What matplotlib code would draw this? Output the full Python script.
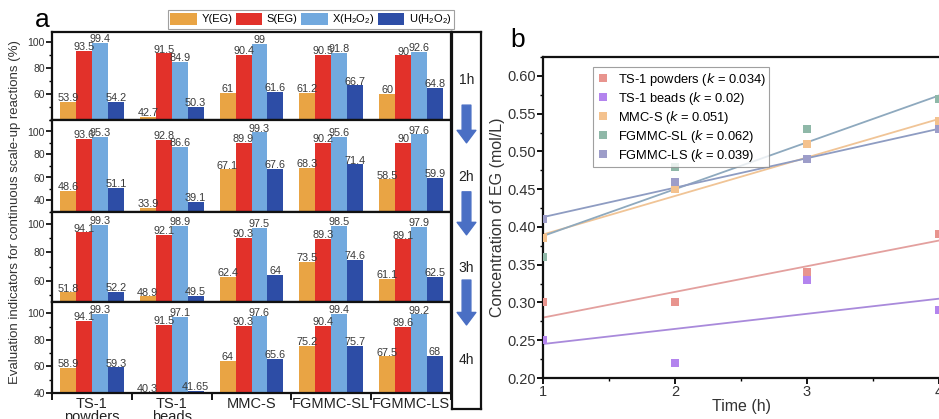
import matplotlib
matplotlib.use("Agg")
import matplotlib.pyplot as plt
import numpy as np
from matplotlib.patches import Patch
from matplotlib.lines import Line2D
from matplotlib.ticker import MultipleLocator, FixedLocator

plt.rcParams['font.family'] = ['Liberation Sans', 'DejaVu Sans']
plt.rcParams['mathtext.default'] = 'regular'

# ---------------- data: panel a ----------------
catalysts = ["TS-1\npowders", "TS-1\nbeads", "MMC-S", "FGMMC-SL", "FGMMC-LS"]
times = ["1h", "2h", "3h", "4h"]
series_names = ["Y(EG)", "S(EG)", "X(H$_2$O$_2$)", "U(H$_2$O$_2$)"]
series_colors = ["#E9A444", "#E2312A", "#72A9DE", "#2D4DA6"]

Y_EG = [[53.9, 42.7, 61, 61.2, 60],
        [48.6, 33.9, 67.1, 68.3, 58.5],
        [51.8, 48.9, 62.4, 73.5, 61.1],
        [58.9, 40.3, 64, 75.2, 67.5]]
S_EG = [[93.5, 91.5, 90.4, 90.5, 90],
        [93.6, 92.8, 89.9, 90.2, 90],
        [94.1, 92.1, 90.3, 89.3, 89.1],
        [94.1, 91.5, 90.3, 90.4, 89.6]]
X_H2O2 = [[99.4, 84.9, 99, 91.8, 92.6],
          [95.3, 86.6, 99.3, 95.6, 97.6],
          [99.3, 98.9, 97.5, 98.5, 97.9],
          [99.3, 97.1, 97.6, 99.4, 99.2]]
U_H2O2 = [[54.2, 50.3, 61.6, 66.7, 64.8],
          [51.1, 39.1, 67.6, 71.4, 59.9],
          [52.2, 49.5, 64, 74.6, 62.5],
          [59.3, 41.65, 65.6, 75.7, 68]]
row_ylims = [(40, 108), (30, 110), (45, 108.5), (40, 108.5)]
row_yticks = [[60, 80, 100], [40, 60, 80, 100], [60, 80, 100], [40, 60, 80, 100]]

# ---------------- data: panel b ----------------
b_names = ["TS-1 powders", "TS-1 beads", "MMC-S", "FGMMC-SL", "FGMMC-LS"]
b_k = [0.034, 0.02, 0.051, 0.062, 0.039]
b_k_text = ["0.034", "0.02", "0.051", "0.062", "0.039"]
b_intercept = [0.28, 0.245, 0.39, 0.388, 0.413]   # fitted value at t = 1 h
b_time = [1, 2, 3, 4]
b_conc = [[0.30, 0.30, 0.34, 0.39],
          [0.25, 0.22, 0.33, 0.29],
          [0.385, 0.45, 0.51, 0.54],
          [0.36, 0.48, 0.53, 0.57],
          [0.41, 0.46, 0.49, 0.53]]
b_marker_colors = ["#E8948E", "#B384EE", "#F4C28E", "#8FB8A8", "#9D9DC9"]
b_line_colors = ["#E3A09E", "#A98ADB", "#F0C496", "#8EA9BE", "#8E9CC2"]

W, H = 939, 419
fig = plt.figure(figsize=(W / 100, H / 100), dpi=100)

def fx(px):
    return px / W

def fy(py):
    return 1 - py / H

# ---------------- panel a ----------------
row_tops = [32, 120, 212, 302]
row_bots = [120, 212, 302, 393]
left_px, right_px = 52, 451
all_series = [Y_EG, S_EG, X_H2O2, U_H2O2]
x = np.arange(len(catalysts))
bw = 0.2
for r in range(4):
    ax = fig.add_axes([fx(left_px), fy(row_bots[r]), fx(right_px - left_px),
                       (row_bots[r] - row_tops[r]) / H])
    for s in range(4):
        vals = all_series[s][r]
        pos = x + (s - 1.5) * bw
        ax.bar(pos, vals, width=bw, color=series_colors[s], edgecolor='none', zorder=2)
        for xp, v in zip(pos, vals):
            ax.text(xp, v + 0.6, f"{v:g}", ha='center', va='baseline', fontsize=7.8,
                    color='#3a3a3a', zorder=3)
    ax.set_xlim(-0.5, len(catalysts) - 0.5)
    ax.set_ylim(*row_ylims[r])
    ax.yaxis.set_major_locator(FixedLocator(row_yticks[r]))
    ax.yaxis.set_minor_locator(MultipleLocator(10))
    ax.tick_params(axis='y', which='major', labelsize=7.5, length=4, width=1.2,
                   direction='out', labelcolor='#333333', pad=1)
    ax.tick_params(axis='y', which='minor', length=2.5, width=1.0, direction='out')
    for sp in ax.spines.values():
        sp.set_linewidth(1.6)
        sp.set_color('#111111')
    if r < 3:
        ax.set_xticks([])
    else:
        ax.set_xticks(x)
        ax.set_xticklabels(catalysts, fontsize=10.5, linespacing=0.85)
        ax.xaxis.set_minor_locator(FixedLocator(np.arange(-0.5, len(catalysts), 1.0)))
        ax.tick_params(axis='x', which='major', length=0, pad=3, labelcolor='#222222')
        ax.tick_params(axis='x', which='minor', length=5, width=1.3, direction='out')

# time box on the right of panel a
tb = fig.add_axes([fx(452), fy(409), fx(29), (409 - 32) / H])
tb.set_xticks([])
tb.set_yticks([])
for sp in tb.spines.values():
    sp.set_linewidth(1.6)
    sp.set_color('#111111')
time_y = [0.873, 0.615, 0.374, 0.130]
for t, yy in zip(times, time_y):
    tb.text(0.5, yy, t, ha='center', va='center', fontsize=10, color='#222222',
            transform=tb.transAxes)
arrow_spans = [(0.806, 0.706), (0.576, 0.462), (0.342, 0.223)]
for y0, y1 in arrow_spans:
    tb.annotate('', xy=(0.5, y1), xytext=(0.5, y0), xycoords='axes fraction',
                arrowprops=dict(arrowstyle='simple,head_width=1.5,head_length=1.0,tail_width=0.7',
                                color='#4A6FC4', mutation_scale=9, shrinkA=0, shrinkB=0))

# legend of panel a
handles = [Patch(facecolor=c, edgecolor='none') for c in series_colors]
leg = fig.legend(handles, series_names, loc='center', bbox_to_anchor=(fx(311), fy(19.5)),
                 ncol=4, fontsize=8, frameon=True, fancybox=False, handlelength=2.4,
                 handleheight=1.3, handletextpad=0.4, columnspacing=0.3, borderpad=0.2,
                 borderaxespad=0)
leg.get_frame().set_edgecolor('#888888')
leg.get_frame().set_linewidth(0.8)

fig.text(fx(42), fy(20), 'a', fontsize=19, ha='center', va='center')
fig.text(fx(15), fy(212), 'Evaluation indicators for continuous scale-up reactions (%)',
         rotation=90, ha='center', va='center', fontsize=9.5, color='#333333')

# ---------------- panel b ----------------
axb = fig.add_axes([fx(543), fy(378), fx(W - 543), (378 - 57) / H])
tline = np.linspace(1, 4, 50)
for i in range(len(b_names)):
    axb.plot(tline, b_intercept[i] + b_k[i] * (tline - 1), color=b_line_colors[i],
             lw=1.3, zorder=2)
    axb.plot(b_time, b_conc[i], linestyle='none', marker='s', markersize=5.5,
             color=b_marker_colors[i], markeredgewidth=0, zorder=3)
axb.set_xlim(1, 4)
axb.set_ylim(0.2, 0.625)
axb.xaxis.set_major_locator(MultipleLocator(1))
axb.xaxis.set_minor_locator(MultipleLocator(0.5))
axb.yaxis.set_major_locator(MultipleLocator(0.05))
axb.yaxis.set_minor_locator(MultipleLocator(0.025))
axb.yaxis.set_major_formatter(matplotlib.ticker.FormatStrFormatter('%.2f'))
axb.tick_params(axis='both', which='major', labelsize=10.5, length=4, width=1.3,
                direction='out', labelcolor='#333333', pad=1)
axb.tick_params(axis='both', which='minor', length=2.5, width=1.0, direction='out')
axb.spines['right'].set_visible(False)
for k in ['left', 'bottom', 'top']:
    axb.spines[k].set_linewidth(1.6)
    axb.spines[k].set_color('#111111')
axb.set_xlabel('Time (h)', fontsize=11.5, color='#333333', labelpad=0)
axb.set_ylabel('Concentration of EG (mol/L)', fontsize=11.5, color='#333333', labelpad=2)

b_handles = [Line2D([], [], linestyle='none', marker='s', markersize=5.5,
                    color=c, markeredgewidth=0) for c in b_marker_colors]
b_labels = [f"{n} ($\\it{{k}}$ = {kt})" for n, kt in zip(b_names, b_k_text)]
legb = axb.legend(b_handles, b_labels, loc='upper left',
                  bbox_to_anchor=((593 - 543) / (W - 543), 1 - 10 / 321),
                  fontsize=9.3, frameon=True, fancybox=False, handlelength=1.0,
                  handletextpad=0.6, labelspacing=0.15, borderpad=0.3, borderaxespad=0)
legb.get_frame().set_edgecolor('#888888')
legb.get_frame().set_linewidth(0.8)

fig.text(fx(518), fy(40), 'b', fontsize=19, ha='center', va='center')

fig.savefig('out.png', dpi=100)
